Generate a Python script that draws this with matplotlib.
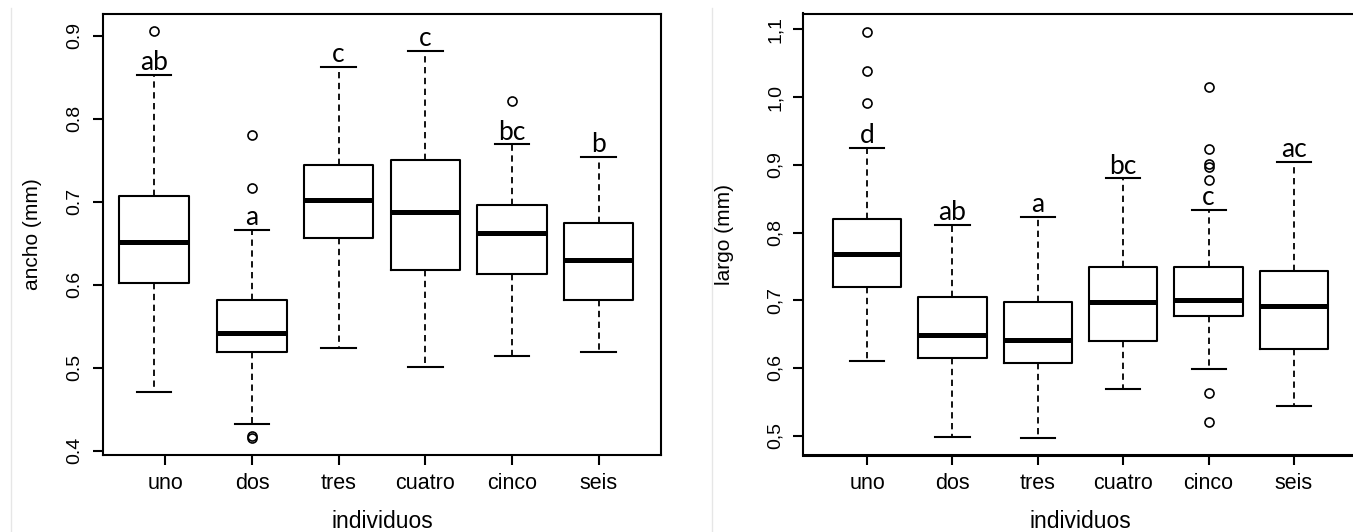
import matplotlib.pyplot as plt
from matplotlib.lines import Line2D

individuos = ["uno", "dos", "tres", "cuatro", "cinco", "seis"]

# ancho (mm): whisker low, Q1, median, Q3, whisker high, outliers
ancho_lo = [0.471, 0.432, 0.524, 0.501, 0.514, 0.519]
ancho_q1 = [0.602, 0.519, 0.656, 0.618, 0.613, 0.582]
ancho_med = [0.651, 0.542, 0.702, 0.687, 0.662, 0.630]
ancho_q3 = [0.707, 0.582, 0.744, 0.750, 0.696, 0.674]
ancho_hi = [0.853, 0.666, 0.862, 0.882, 0.769, 0.754]
ancho_out = [[0.905], [0.780, 0.717, 0.418, 0.415], [], [], [0.821], []]
ancho_letras = ["ab", "a", "c", "c", "bc", "b"]
ancho_ticks = [0.4, 0.5, 0.6, 0.7, 0.8, 0.9]
ancho_ticklabels = ["0.4", "0.5", "0.6", "0.7", "0.8", "0.9"]

# largo (mm)
largo_lo = [0.610, 0.498, 0.496, 0.569, 0.598, 0.543]
largo_q1 = [0.719, 0.614, 0.607, 0.640, 0.676, 0.628]
largo_med = [0.768, 0.649, 0.641, 0.697, 0.701, 0.692]
largo_q3 = [0.820, 0.705, 0.697, 0.749, 0.749, 0.743]
largo_hi = [0.925, 0.811, 0.823, 0.880, 0.833, 0.904]
largo_out = [[1.096, 1.038, 0.991], [], [], [],
             [1.015, 0.923, 0.901, 0.897, 0.878, 0.563, 0.520], []]
largo_letras = ["d", "ab", "a", "bc", "c", "ac"]
largo_ticks = [0.5, 0.6, 0.7, 0.8, 0.9, 1.0, 1.1]
largo_ticklabels = ["0,5", "0,6", "0,7", "0,8", "0,9", "1,0", "1,1"]

W, H = 1353, 532
plt.rcParams["font.family"] = ["Liberation Sans", "DejaVu Sans"]
fig = plt.figure(figsize=(W / 100, H / 100), dpi=100)

ax1 = fig.add_axes([103 / W, (H - 455) / H, 558 / W, 441 / H])
ax2 = fig.add_axes([803 / W, (H - 455) / H, 555 / W, 441.5 / H])


def draw(ax, lo, q1, med, q3, hi, out, letras, pos, yticks, ylabels, xlim, ylim, ylabel):
    stats = [dict(whislo=a, q1=b, med=c, q3=d, whishi=e, fliers=f)
             for a, b, c, d, e, f in zip(lo, q1, med, q3, hi, out)]
    ax.bxp(stats, positions=pos, widths=0.8, capwidths=0.4,
           boxprops=dict(color="black", lw=1.5),
           medianprops=dict(color="black", lw=3.6, solid_capstyle="butt"),
           whiskerprops=dict(color="black", lw=1.3, ls=(0, (3.5, 2.5))),
           capprops=dict(color="black", lw=1.5),
           flierprops=dict(marker="o", mfc="none", mec="black", ms=6.5, mew=1.2))
    for x, y, t in zip(pos, hi, letras):
        ax.annotate(t, (x, y), xytext=(0, 3.5), textcoords="offset points",
                    ha="center", va="baseline", fontsize=19,
                    family=["Lato", "DejaVu Sans"])
    ax.set_xticks(range(1, 7), individuos)
    ax.set_yticks(yticks, ylabels)
    ax.tick_params(direction="out", length=7, width=1.5, color="black")
    ax.tick_params(axis="x", pad=6, labelsize=15.5)
    ax.tick_params(axis="y", labelrotation=90, pad=7, labelsize=14)
    for lab in ax.get_yticklabels():
        lab.set_va("center")
    ax.set_xlim(*xlim)
    ax.set_ylim(*ylim)
    ax.set_ylabel(ylabel, fontsize=15)
    ax.yaxis.label.set_va("center")
    ax.set_xlabel("individuos", fontsize=16.5)
    for s in ax.spines.values():
        s.set_linewidth(1.5)


draw(ax1, ancho_lo, ancho_q1, ancho_med, ancho_q3, ancho_hi, ancho_out,
     ancho_letras, [0.87, 2, 3, 4, 5, 6], ancho_ticks, ancho_ticklabels,
     (0.28, 6.72), (0.395, 0.926), "ancho (mm)")
draw(ax2, largo_lo, largo_q1, largo_med, largo_q3, largo_hi, largo_out,
     largo_letras, [1, 2, 3, 4, 5, 6], largo_ticks, largo_ticklabels,
     (0.25, 6.75), (0.4713, 1.1236), "largo (mm)")

ax1.yaxis.set_label_coords((32 - 103) / 558, 0.5)
ax2.yaxis.set_label_coords((725 - 803) / 555, 0.5)
ax1.xaxis.set_label_coords(0.5, -0.125)
ax2.xaxis.set_label_coords(0.5, -0.125)
ax2.spines["bottom"].set_linewidth(2.2)

# faint panel borders from the source image
for xp in (11, 712):
    fig.add_artist(Line2D([xp / W, xp / W], [0, 1 - 8 / H], color="#e6e6e6", lw=1))

fig.savefig("out.png", dpi=100)
